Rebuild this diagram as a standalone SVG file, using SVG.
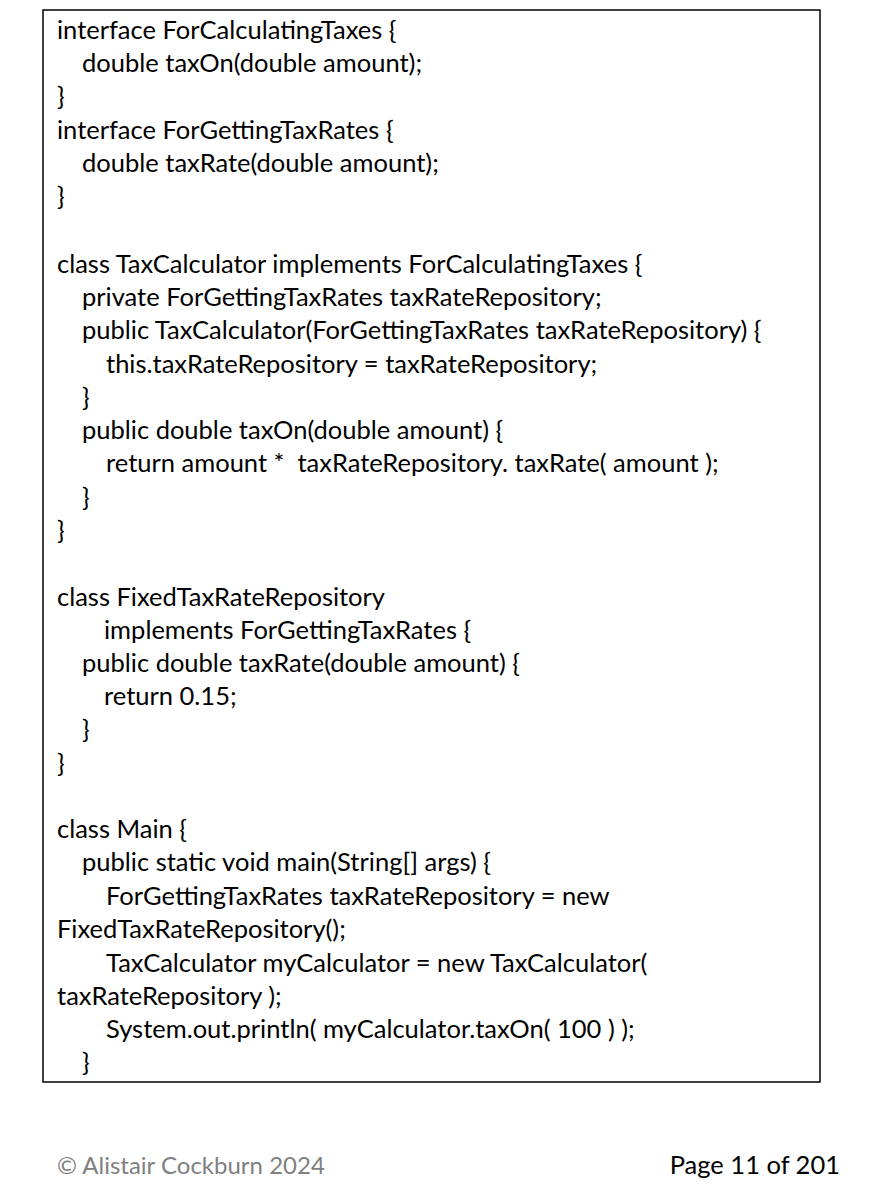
<svg xmlns="http://www.w3.org/2000/svg" width="871" height="1200" viewBox="0 0 871 1200">
<style>
text{font-family:Lato,"Liberation Sans",sans-serif;font-size:25.5px;fill:#000;white-space:pre}
.f{fill:#808080;font-size:24px}
</style>
<rect width="871" height="1200" fill="#fff"/>
<g id="code">
<rect x="43" y="10" width="777" height="1072" fill="#fff" stroke="#000" stroke-width="1.5"/>
<text x="57" y="39">interface ForCalculatingTaxes {</text>
<text x="82" y="72">double taxOn(double amount);</text>
<text x="57" y="105">}</text>
<text x="57" y="139">interface ForGettingTaxRates {</text>
<text x="82" y="172">double taxRate(double amount);</text>
<text x="57" y="205">}</text>
<text x="57" y="273">class TaxCalculator implements ForCalculatingTaxes {</text>
<text x="82" y="306">private ForGettingTaxRates taxRateRepository;</text>
<text x="82" y="339">public TaxCalculator(ForGettingTaxRates taxRateRepository) {</text>
<text x="106" y="373">this.taxRateRepository = taxRateRepository;</text>
<text x="82" y="406">}</text>
<text x="82" y="439">public double taxOn(double amount) {</text>
<text x="106" y="472">return amount *  taxRateRepository. taxRate( amount );</text>
<text x="82" y="506">}</text>
<text x="57" y="539">}</text>
<text x="57" y="606">class FixedTaxRateRepository</text>
<text x="104" y="639">implements ForGettingTaxRates {</text>
<text x="82" y="672">public double taxRate(double amount) {</text>
<text x="104" y="705">return 0.15;</text>
<text x="82" y="738">}</text>
<text x="57" y="772">}</text>
<text x="57" y="838">class Main {</text>
<text x="82" y="871">public static void main(String[] args) {</text>
<text x="106" y="905">ForGettingTaxRates taxRateRepository = new</text>
<text x="57" y="938">FixedTaxRateRepository();</text>
<text x="106" y="972">TaxCalculator myCalculator = new TaxCalculator(</text>
<text x="57" y="1005">taxRateRepository );</text>
<text x="106" y="1038">System.out.println( myCalculator.taxOn( 100 ) );</text>
<text x="82" y="1071">}</text>
</g>
<g id="footer">
<text class="f" x="57" y="1174">© Alistair Cockburn 2024</text>
<text x="840" y="1174" text-anchor="end" style="font-size:25.5px">Page 11 of 201</text>
</g>
</svg>
